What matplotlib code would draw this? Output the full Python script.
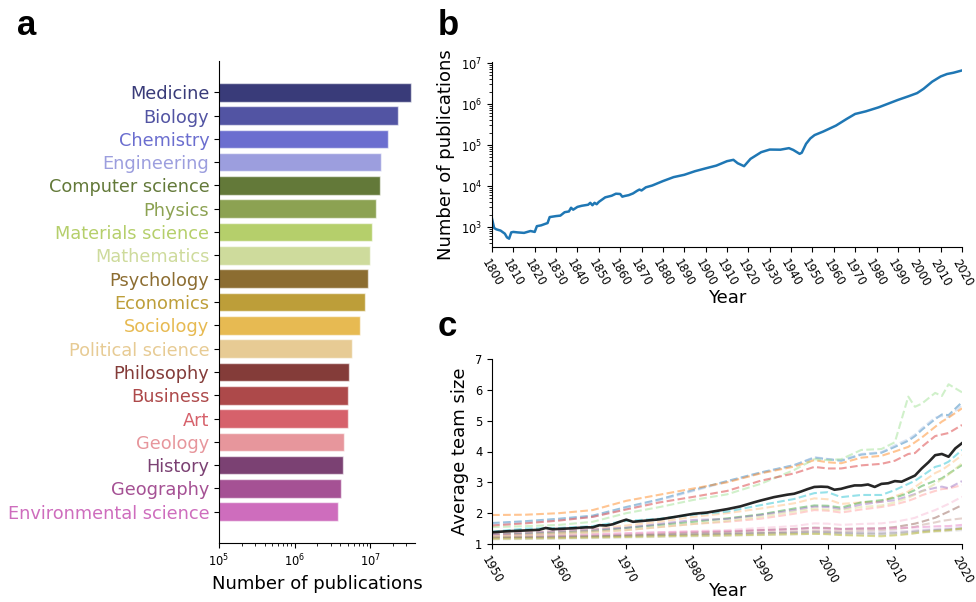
import numpy as np
import matplotlib
matplotlib.use("Agg")
import matplotlib.pyplot as plt

# ---------------- Panel a data ----------------
fields = ["Medicine", "Biology", "Chemistry", "Engineering", "Computer science",
          "Physics", "Materials science", "Mathematics", "Psychology", "Economics",
          "Sociology", "Political science", "Philosophy", "Business", "Art",
          "Geology", "History", "Geography", "Environmental science"]
publications = [3.43e7, 2.36e7, 1.69e7, 1.40e7, 1.35e7, 1.19e7, 1.04e7, 9.8e6,
                9.4e6, 8.5e6, 7.4e6, 5.7e6, 5.2e6, 5.1e6, 5.0e6, 4.5e6, 4.4e6,
                4.15e6, 3.76e6]

# ---------------- Panel b data ----------------
pub_years = [1800, 1801, 1802, 1804, 1806, 1807, 1808, 1809, 1810, 1812, 1815, 1818,
             1820, 1821, 1823, 1825, 1826, 1827, 1830, 1832, 1834, 1836, 1837, 1838,
             1840, 1842, 1845, 1846, 1847, 1848, 1849, 1850, 1853, 1856, 1858, 1860,
             1861, 1862, 1864, 1866, 1868, 1869, 1870, 1872, 1875, 1880, 1885, 1890,
             1895, 1900, 1905, 1910, 1913, 1915, 1918, 1921, 1926, 1930, 1935, 1939,
             1941, 1944, 1945, 1947, 1949, 1951, 1955, 1961, 1966, 1970, 1971, 1975,
             1981, 1990, 1995, 1999, 2002, 2006, 2010, 2013, 2016, 2020]
pub_counts = [1600, 950, 880, 820, 690, 560, 520, 740, 760, 740, 720, 800,
              760, 1050, 1100, 1200, 1250, 1750, 1850, 1900, 2300, 2400, 2950, 2650,
              3100, 3300, 3500, 3900, 3400, 3900, 3600, 4100, 5300, 5800, 6500, 6400,
              5500, 5700, 6000, 6600, 7700, 8200, 7800, 9300, 10300, 13200, 16500, 18800,
              23000, 27000, 31500, 40400, 43600, 36000, 30500, 46000, 67000, 77600, 77000, 84000,
              76000, 61000, 65000, 107000, 145000, 175000, 213000, 298000, 433000, 574000, 590000, 664000,
              832000, 1.26e6, 1.55e6, 1.85e6, 2.35e6, 3.5e6, 4.7e6, 5.4e6, 5.8e6, 6.6e6]

# ---------------- Panel c data ----------------
team_years = [1950, 1955, 1960, 1965, 1970, 1975, 1980, 1985, 1990, 1995, 1998, 2000,
              2002, 2005, 2008, 2010, 2012, 2013, 2014, 2016, 2017, 2018, 2020]
team_blue = [1.68, 1.74, 1.82, 1.92, 2.20, 2.45, 2.75, 3.04, 3.32, 3.56, 3.80, 3.75,
             3.70, 3.90, 3.96, 4.15, 4.35, 4.50, 4.70, 5.05, 5.20, 5.18, 5.60]
team_lightblue = [1.64, 1.70, 1.78, 1.88, 2.15, 2.42, 2.72, 3.02, 3.30, 3.55, 3.82, 3.76,
                  3.72, 3.92, 3.98, 4.20, 4.40, 4.55, 4.75, 5.10, 5.15, 5.12, 5.50]
team_orange = [1.94, 1.95, 2.00, 2.10, 2.40, 2.60, 2.80, 3.00, 3.29, 3.51, 3.72, 3.65,
               3.62, 3.80, 3.86, 4.00, 4.15, 4.30, 4.45, 4.80, 4.97, 5.10, 5.40]
team_lightorange = [1.35, 1.38, 1.42, 1.48, 1.60, 1.72, 1.88, 2.00, 2.15, 2.32, 2.48, 2.45,
                    2.30, 2.35, 2.37, 2.55, 2.70, 2.85, 3.00, 3.30, 3.40, 3.55, 3.88]
team_green = [1.30, 1.33, 1.37, 1.42, 1.52, 1.62, 1.72, 1.83, 1.96, 2.15, 2.25, 2.24,
              2.18, 2.35, 2.42, 2.50, 2.65, 2.75, 2.88, 3.05, 3.13, 3.28, 3.56]
team_lightgreen = [1.55, 1.58, 1.62, 1.72, 2.00, 2.20, 2.43, 2.61, 2.95, 3.40, 3.75, 3.72,
                   3.75, 4.05, 4.08, 4.30, 5.78, 5.45, 5.55, 5.90, 5.80, 6.18, 5.92]
team_red = [1.60, 1.67, 1.76, 1.88, 2.12, 2.35, 2.53, 2.72, 3.05, 3.29, 3.50, 3.45,
            3.45, 3.55, 3.60, 3.70, 3.92, 3.95, 4.15, 4.50, 4.55, 4.60, 4.86]
team_lightred = [1.28, 1.30, 1.35, 1.40, 1.45, 1.55, 1.65, 1.72, 1.82, 1.98, 2.10, 2.08,
                 2.02, 2.12, 2.20, 2.28, 2.40, 2.48, 2.58, 2.72, 2.78, 2.80, 2.91]
team_purple = [1.32, 1.36, 1.42, 1.47, 1.53, 1.65, 1.78, 1.81, 1.94, 2.10, 2.21, 2.20,
               2.13, 2.28, 2.37, 2.42, 2.55, 2.62, 2.72, 2.82, 2.86, 2.81, 3.04]
team_lightpurple = [1.18, 1.19, 1.20, 1.22, 1.25, 1.28, 1.30, 1.32, 1.35, 1.38, 1.40, 1.39,
                    1.37, 1.37, 1.38, 1.40, 1.42, 1.44, 1.46, 1.48, 1.50, 1.50, 1.55]
team_brown = [1.22, 1.23, 1.25, 1.27, 1.30, 1.34, 1.38, 1.40, 1.45, 1.49, 1.53, 1.52,
              1.49, 1.50, 1.51, 1.55, 1.62, 1.66, 1.72, 1.85, 1.95, 2.05, 2.26]
team_lightbrown = [1.20, 1.21, 1.22, 1.24, 1.27, 1.30, 1.32, 1.35, 1.38, 1.41, 1.44, 1.43,
                   1.41, 1.43, 1.45, 1.48, 1.53, 1.56, 1.62, 1.70, 1.75, 1.78, 1.83]
team_pink = [1.27, 1.28, 1.30, 1.32, 1.35, 1.38, 1.40, 1.42, 1.45, 1.48, 1.52, 1.50,
             1.48, 1.50, 1.50, 1.52, 1.53, 1.54, 1.55, 1.57, 1.58, 1.58, 1.62]
team_lightpink = [1.25, 1.26, 1.28, 1.30, 1.33, 1.38, 1.42, 1.45, 1.52, 1.58, 1.67, 1.66,
                  1.62, 1.65, 1.67, 1.72, 1.80, 1.85, 1.94, 2.10, 2.20, 2.30, 2.53]
team_gray = [1.22, 1.23, 1.24, 1.25, 1.27, 1.29, 1.31, 1.33, 1.35, 1.36, 1.38, 1.37,
             1.35, 1.34, 1.33, 1.35, 1.38, 1.40, 1.42, 1.45, 1.46, 1.47, 1.50]
team_lightgray = [1.15, 1.16, 1.17, 1.19, 1.21, 1.23, 1.25, 1.27, 1.29, 1.31, 1.33, 1.32,
                  1.30, 1.29, 1.28, 1.30, 1.33, 1.35, 1.37, 1.40, 1.41, 1.42, 1.45]
team_olive = [1.17, 1.18, 1.19, 1.21, 1.23, 1.25, 1.27, 1.28, 1.30, 1.32, 1.33, 1.32,
              1.29, 1.27, 1.25, 1.28, 1.32, 1.35, 1.38, 1.42, 1.43, 1.45, 1.50]
team_lightolive = [1.25, 1.28, 1.32, 1.37, 1.45, 1.55, 1.65, 1.75, 1.88, 2.05, 2.15, 2.12,
                   2.10, 2.20, 2.25, 2.35, 2.50, 2.60, 2.70, 2.95, 3.10, 3.25, 3.62]
team_cyan = [1.40, 1.50, 1.52, 1.58, 1.75, 1.82, 1.95, 2.05, 2.26, 2.46, 2.65, 2.68,
             2.52, 2.59, 2.59, 2.75, 2.95, 3.05, 3.20, 3.50, 3.56, 3.67, 4.05]

avg_years = [1950, 1952, 1954, 1956, 1957, 1958, 1959, 1960, 1962, 1964, 1965, 1966,
             1967, 1968, 1969, 1970, 1971, 1973, 1975, 1977, 1980, 1982, 1985, 1987,
             1989, 1990, 1992, 1994, 1995, 1996, 1997, 1998, 1999, 2000, 2001, 2002,
             2003, 2004, 2005, 2006, 2007, 2008, 2009, 2010, 2011, 2012, 2013, 2014,
             2015, 2016, 2017, 2018, 2019, 2020]
avg_team = [1.38, 1.41, 1.43, 1.45, 1.46, 1.52, 1.48, 1.49, 1.51, 1.54, 1.54, 1.61,
            1.60, 1.64, 1.72, 1.79, 1.72, 1.76, 1.80, 1.87, 1.98, 2.02, 2.13, 2.22,
            2.35, 2.41, 2.52, 2.60, 2.63, 2.70, 2.78, 2.85, 2.86, 2.85, 2.76, 2.79,
            2.85, 2.90, 2.90, 2.93, 2.85, 2.95, 2.97, 3.04, 3.02, 3.12, 3.22, 3.45,
            3.65, 3.88, 3.92, 3.83, 4.10, 4.27]

team_series = [team_blue, team_lightblue, team_orange, team_lightorange, team_green,
               team_lightgreen, team_red, team_lightred, team_purple, team_lightpurple,
               team_brown, team_lightbrown, team_pink, team_lightpink, team_gray,
               team_lightgray, team_olive, team_lightolive, team_cyan]

# ---------------- Figure ----------------
W, H = 976, 602
fig = plt.figure(figsize=(W / 100, H / 100), dpi=100)

def box(l, t, r, b):
    return [l / W, 1 - b / H, (r - l) / W, (b - t) / H]

tick_fs = 8.3
lab_fs = 13

# Panel a
ax_a = fig.add_axes(box(219, 61, 415, 543))
bar_colors = [plt.get_cmap("tab20b")(i) for i in range(len(fields))]
ax_a.set_xscale("log")
ypos = np.arange(len(fields))
ax_a.barh(ypos, publications, height=0.8, color=bar_colors,
          edgecolor=(1, 1, 1, 0.6), linewidth=1.0)
ax_a.set_xlim(1e5, 3.9e7)
ax_a.set_ylim(len(fields) - 1 + 1.34, -1.34)
ax_a.set_yticks(ypos)
ax_a.set_yticklabels(fields, fontsize=12.8)
for lbl, c in zip(ax_a.get_yticklabels(), bar_colors):
    lbl.set_color(c)
ax_a.tick_params(axis="x", labelsize=tick_fs)
ax_a.set_xlabel("Number of publications", fontsize=lab_fs)
for s in ("top", "right"):
    ax_a.spines[s].set_visible(False)

# Panel b
ax_b = fig.add_axes(box(492, 62, 962, 247))
ax_b.plot(pub_years, pub_counts, color="#1f77b4", lw=1.8)
ax_b.set_yscale("log")
ax_b.set_xlim(1800, 2020)
ax_b.set_ylim(326, 1.06e7)
ax_b.set_xticks(np.arange(1800, 2021, 10))
ax_b.tick_params(axis="x", labelsize=tick_fs, labelrotation=-60)
ax_b.tick_params(axis="y", labelsize=tick_fs)
ax_b.set_xlabel("Year", fontsize=lab_fs)
ax_b.xaxis.set_label_coords(0.5, -0.225)
ax_b.set_ylabel("Number of publications", fontsize=lab_fs)
for s in ("top", "right"):
    ax_b.spines[s].set_visible(False)

# Panel c
ax_c = fig.add_axes(box(492, 359, 962, 544))
tab20 = plt.get_cmap("tab20")
for i, series in enumerate(team_series):
    ax_c.plot(team_years, series, ls="--", lw=1.5, color=tab20(i), alpha=0.45)
ax_c.plot(avg_years, avg_team, color="black", lw=1.9, alpha=0.85)
ax_c.set_xlim(1950, 2020)
ax_c.set_ylim(1, 7)
ax_c.set_xticks(np.arange(1950, 2021, 10))
ax_c.set_yticks(np.arange(1, 8))
ax_c.tick_params(axis="x", labelsize=tick_fs, labelrotation=-60)
ax_c.tick_params(axis="y", labelsize=tick_fs)
ax_c.set_xlabel("Year", fontsize=lab_fs)
ax_c.xaxis.set_label_coords(0.5, -0.205)
ax_c.set_ylabel("Average team size", fontsize=lab_fs)
for s in ("top", "right"):
    ax_c.spines[s].set_visible(False)

# Panel letters
for txt, x, y in (("a", 17, 35), ("b", 438, 35), ("c", 438, 336)):
    fig.text(x / W, 1 - y / H, txt, fontsize=25, fontweight="bold",
             family=["Liberation Sans", "DejaVu Sans"], va="baseline", ha="left")

fig.savefig("out.png", dpi=100)
